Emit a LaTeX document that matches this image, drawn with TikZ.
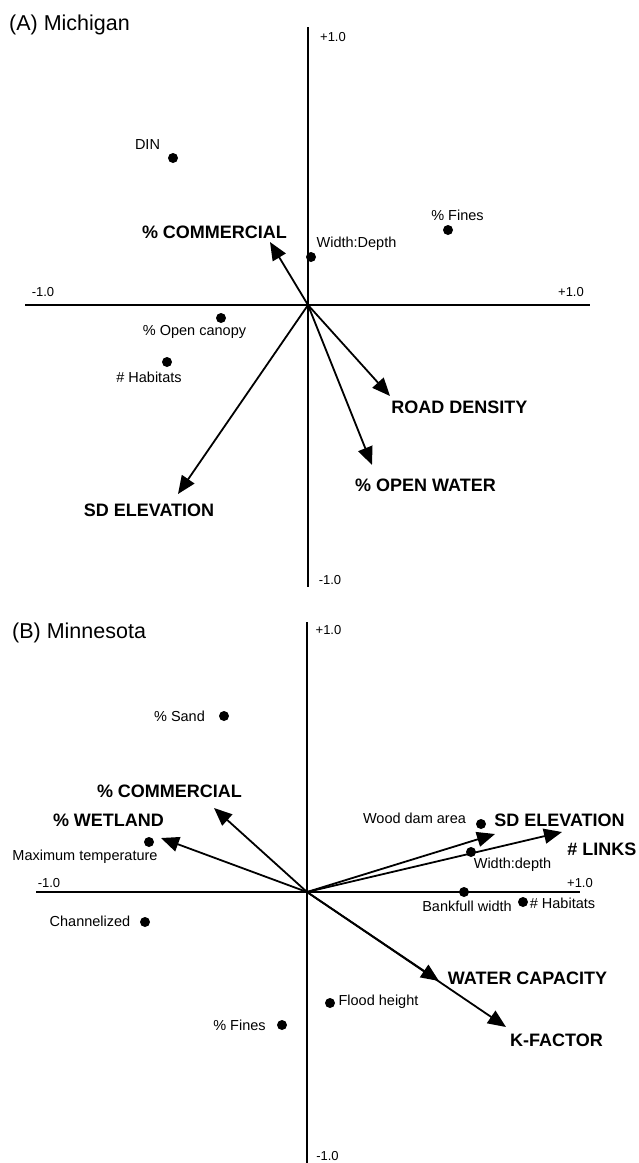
\documentclass[tikz,border=0pt]{standalone}
\usepackage{fontspec}
\setmainfont{Liberation Sans}
\usetikzlibrary{arrows.meta}
\tikzset{
  axis/.style={line width=1.8pt},
  vec/.style={line width=1.8pt,-{Triangle[length=18pt,width=15pt]}},
  dot/.style={circle,fill,inner sep=0pt,minimum size=10pt},
  lab/.style={font=\fontsize{14.5}{16}\selectfont,inner sep=0pt},
  big/.style={font=\fontsize{18}{20}\selectfont\bfseries,inner sep=0pt},
  num/.style={font=\fontsize{13}{14}\selectfont,inner sep=0pt},
  ttl/.style={font=\fontsize{21.5}{24}\selectfont,inner sep=0pt}
}
\begin{document}
\begin{tikzpicture}[x=1pt,y=-1pt]
\useasboundingbox (0,0) rectangle (638,1163);
% (A) Michigan
\node[ttl,anchor=west] (titleA) at (9,25) {(A) Michigan};
\coordinate (oA) at (308,305);
\coordinate (topA) at (308,27);
\coordinate (botA) at (308,587);
\coordinate (leftA) at (25,305);
\coordinate (rightA) at (590,305);
\draw[axis] (topA) -- (botA);
\draw[axis] (leftA) -- (rightA);
\node[num] (ytA) at (333,37) {+1.0};
\node[num] (ybA) at (330,580) {-1.0};
\node[num] (xlA) at (43,292) {-1.0};
\node[num] (xrA) at (571,292) {+1.0};
\foreach \n/\x/\y in {dinA/173/158, finesA/448/230, wdA/311/257, canA/221/318, habA/167/362}
  \node[dot] (\n) at (\x,\y) {};
\foreach \n/\x/\y/\t in {dinAt/147.5/145/DIN, finesAt/457.5/215/\% Fines, wdAt/356.5/244/Width:Depth,
  canAt/194.5/332/\% Open canopy, habAt/149/377/\# Habitats}
  \node[lab] (\n) at (\x,\y) {\t};
\foreach \n/\x/\y in {comA/270/242, roadA/390/396, waterA/372/465, sdA/178/494}
  \coordinate (\n) at (\x,\y);
\foreach \n in {comA,roadA,waterA,sdA}
  \draw[vec] (oA) -- (\n);
\node[big] (comAt) at (214.5,232) {\% COMMERCIAL};
\node[big] (roadAt) at (459.5,407) {ROAD DENSITY};
\node[big] (waterAt) at (425.5,485) {\% OPEN WATER};
\node[big] (sdAt) at (149,510) {SD ELEVATION};
% (B) Minnesota
\node[ttl,anchor=west] (titleB) at (12,633) {(B) Minnesota};
\coordinate (oB) at (307,892);
\coordinate (topB) at (307,622);
\coordinate (botB) at (307,1163);
\coordinate (leftB) at (36,892);
\coordinate (rightB) at (580,892);
\draw[axis] (topB) -- (botB);
\draw[axis] (leftB) -- (rightB);
\node[num] (ytB) at (328.5,630) {+1.0};
\node[num] (ybB) at (327.5,1156) {-1.0};
\node[num] (xlB) at (49,883) {-1.0};
\node[num] (xrB) at (580,883) {+1.0};
\foreach \n/\x/\y in {sandB/224/716, maxB/149/842, woodB/481/824, wdB/471/852, bankB/464/892,
  habB/523/902, chanB/145/922, floodB/330/1003, finesB/282/1025}
  \node[dot] (\n) at (\x,\y) {};
\foreach \n/\x/\y/\t in {sandBt/179.5/716/\% Sand, maxBt/85/857/Maximum temperature,
  woodBt/414.5/818/Wood dam area, wdBt/512.5/865/Width:depth, bankBt/467/906/Bankfull width,
  habBt/562.5/903/\# Habitats, chanBt/90/921/Channelized, floodBt/378.5/1002/Flood height,
  finesBt/239.5/1025/\% Fines}
  \node[lab] (\n) at (\x,\y) {\t};
\foreach \n/\x/\y in {comB/214/808, wetB/161/838, sdB/495/834, linksB/562/832, wcapB/439/981, kfB/506/1027}
  \coordinate (\n) at (\x,\y);
\foreach \n in {comB,wetB,sdB,linksB,wcapB,kfB}
  \draw[vec] (oB) -- (\n);
\node[big] (comBt) at (169.5,791) {\% COMMERCIAL};
\node[big] (wetBt) at (108.5,820) {\% WETLAND};
\node[big] (sdBt) at (559.5,820) {SD ELEVATION};
\node[big] (linksBt) at (602,849) {\# LINKS};
\node[big] (wcapBt) at (527.5,978) {WATER CAPACITY};
\node[big] (kfBt) at (556.5,1040) {K-FACTOR};
\end{tikzpicture}
\end{document}
